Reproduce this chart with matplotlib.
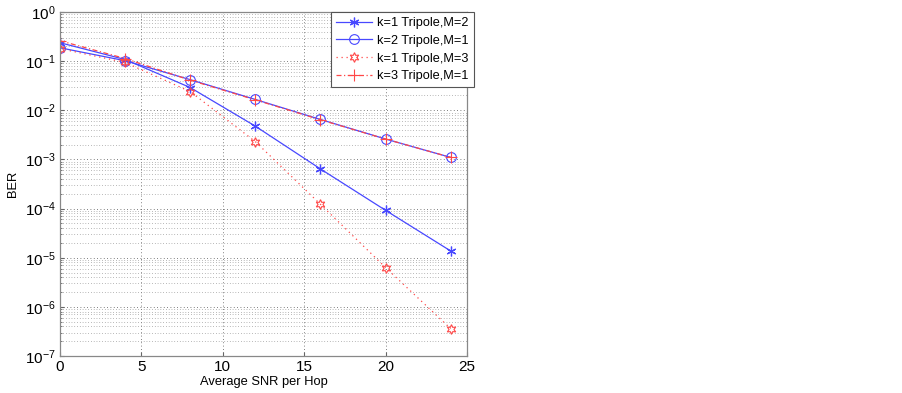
import numpy as np
import matplotlib
matplotlib.use('agg')
import matplotlib.pyplot as plt
from matplotlib.ticker import LogLocator, NullFormatter

plt.rcParams['font.family'] = ['Liberation Sans', 'DejaVu Sans']

## SNR points (dB)
snr = [0, 4, 8, 12, 16, 20, 24]

## BER curves
ber_k1_m2 = [0.237, 0.108, 0.029, 0.00475, 6.4e-4, 9.2e-5, 1.37e-5]
ber_k2_m1 = [0.187, 0.102, 0.042, 0.0166, 0.0065, 0.0026, 0.0011]
ber_k1_m3 = [0.18, 0.094, 0.024, 0.0023, 1.22e-4, 6.3e-6, 3.6e-7]
ber_k3_m1 = [0.26, 0.113, 0.041, 0.0163, 0.0064, 0.0026, 0.0011]

labels = ['k=1 Tripole,M=2', 'k=2 Tripole,M=1', 'k=1 Tripole,M=3', 'k=3 Tripole,M=1']

blue = '#4848ff'
red = '#ff4848'

fig = plt.figure(figsize=(9.03, 3.93), dpi=100)
ax = fig.add_axes([60/903., 37/393., 407/903., 344/393.])

ax.semilogy(snr, ber_k1_m2, color=blue, lw=0.9, marker=(6, 2, 0), ms=7, mew=0.9, label=labels[0])
ax.semilogy(snr, ber_k2_m1, color=blue, lw=0.9, marker='o', ms=7, mfc='none', mew=0.8, label=labels[1])
ax.semilogy(snr, ber_k1_m3, color=red, lw=0.9, ls=(0, (1, 3)), marker=(6, 1, 0), ms=7, mfc='none', mew=0.8, label=labels[2])
ax.semilogy(snr, ber_k3_m1, color=red, lw=0.9, ls=(0, (4, 2, 1, 2)), marker='+', ms=8, mew=0.8, label=labels[3])

ax.set_xlim(0, 25)
ax.set_ylim(1e-7, 1)
ax.set_xticks([0, 5, 10, 15, 20, 25])
ax.yaxis.set_major_locator(LogLocator(base=10, numticks=10))
ax.yaxis.set_minor_locator(LogLocator(base=10, subs=np.arange(2, 10), numticks=20))
ax.yaxis.set_minor_formatter(NullFormatter())

ax.grid(True, which='major', color='#555555', ls=(0, (1, 3)), lw=0.6)
ax.grid(True, which='minor', axis='y', color='#777777', ls=(0, (1, 3)), lw=0.5)

ax.tick_params(direction='in', labelsize=11, length=3, color='#666666', pad=3)
ax.tick_params(which='minor', direction='in', length=1.5, color='#666666')
for s in ax.spines.values():
    s.set_color('#888888')
    s.set_linewidth(0.9)

ax.set_xlabel('Average SNR per Hop', fontsize=9.3, labelpad=1)
ax.set_ylabel('BER', fontsize=9.3, labelpad=4)

leg = ax.legend(loc='upper right', bbox_to_anchor=(1.017, 1.0), fontsize=9.2, fancybox=False,
                framealpha=1, borderaxespad=0, handlelength=2.8, handletextpad=0.4,
                labelspacing=0.45, borderpad=0.4)
leg.get_frame().set_edgecolor('#555555')
leg.get_frame().set_linewidth(0.8)

fig.savefig('out.png', dpi=100)
